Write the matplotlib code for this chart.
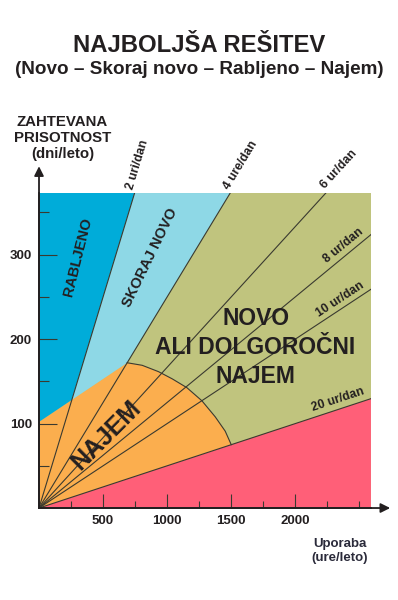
import numpy as np
import matplotlib
matplotlib.use('Agg')
import matplotlib.pyplot as plt
from matplotlib.patches import Polygon

plt.rcParams['font.family'] = ['Liberation Sans', 'DejaVu Sans']
plt.rcParams['font.weight'] = 'bold'

# axis extents (hours per year, days per year)
x_max = 2590
y_max = 373

# lines of constant daily use
hours_per_day = [2, 4, 6, 8, 10, 20]
hour_labels = ['2 uri/dan', '4 ure/dan', '6 ur/dan', '8 ur/dan', '10 ur/dan', '20 ur/dan']

# boundary of the "used" zones starts here on the y axis
used_start_days = 102

# boundary of the rental (najem) zone
najem_arc_x = [688, 805, 932, 1039, 1154, 1271, 1375, 1453, 1500]
najem_arc_y = [172, 169, 161.5, 153, 142.5, 127, 108, 91, 75]

x_ticks = [500, 1000, 1500, 2000]
x_minor = [250, 750, 1250, 1750, 2250, 2500]
y_ticks = [100, 200, 300]
y_minor = [50, 150, 250, 350]

c_green = '#c0c47e'
c_pink = '#ff5f78'
c_orange = '#fbae4e'
c_blue = '#00acd9'
c_lblue = '#8ed8e6'
c_ink = '#231f20'
c_line = '#3a3a30'

fig = plt.figure(figsize=(3.98, 6.0), dpi=100)
ax = fig.add_axes([0.098, 0.1533, 0.834, 0.525])
ax.set_xlim(0, x_max)
ax.set_ylim(0, y_max)
ax.set_facecolor(c_green)

# geometry of zone corners
corner_x, corner_y = najem_arc_x[0], najem_arc_y[0]
slope_b = (corner_y - used_start_days) / corner_x
x2 = used_start_days / (1 / 2 - slope_b)
y2 = x2 / 2

ax.add_patch(Polygon([(0, 0), (x_max, x_max / 20), (x_max, 0)], closed=True,
                     facecolor=c_pink, edgecolor='none'))
orange_pts = [(0, 0), (0, used_start_days)] + list(zip(najem_arc_x, najem_arc_y))
ax.add_patch(Polygon(orange_pts, closed=True, facecolor=c_orange, edgecolor='none'))
ax.add_patch(Polygon([(0, used_start_days), (x2, y2), (2 * y_max, y_max), (0, y_max)],
                     closed=True, facecolor=c_blue, edgecolor='none'))
ax.add_patch(Polygon([(x2, y2), (corner_x, corner_y), (4 * y_max, y_max), (2 * y_max, y_max)],
                     closed=True, facecolor=c_lblue, edgecolor='none'))

ax.plot(najem_arc_x, najem_arc_y, color=c_line, lw=0.8)

for h, lab in zip(hours_per_day, hour_labels):
    xe = min(x_max, y_max * h)
    ax.plot([0, xe], [0, xe / h], color=c_line, lw=0.8)
    ang = np.degrees(np.arctan2(1, h))
    if y_max * h < x_max:
        ax.text(xe + 10, xe / h + 2, lab, rotation=ang, transform_rotates_text=True,
                rotation_mode='anchor', ha='left', va='bottom', fontsize=8.8,
                color=c_ink, clip_on=False)
    else:
        xt = x_max - 40
        ax.text(xt, xt / h + 4, lab, rotation=ang, transform_rotates_text=True,
                rotation_mode='anchor', ha='right', va='bottom', fontsize=8.8,
                color=c_ink)

# zone names
ax.text(305, 297, 'RABLJENO', rotation=76, ha='center', va='center',
        fontsize=10.5, color=c_ink)
ax.text(867, 296, 'SKORAJ NOVO', rotation=64, ha='center', va='center',
        fontsize=10.5, color=c_ink)
ax.text(1690, 190, 'NOVO\nALI DOLGOROČNI\nNAJEM', ha='center', va='center',
        fontsize=16.5, color=c_ink, linespacing=1.35)
ax.text(525, 86, 'NAJEM', rotation=45, ha='center', va='center',
        fontsize=18, color=c_ink)

for s in ['top', 'right']:
    ax.spines[s].set_visible(False)
for s in ['left', 'bottom']:
    ax.spines[s].set_color(c_ink)
    ax.spines[s].set_linewidth(1.3)

ax.set_xticks(x_ticks)
ax.set_xticks(x_minor, minor=True)
ax.set_yticks(y_ticks)
ax.set_yticks(y_minor, minor=True)
ax.set_xticklabels([str(v) for v in x_ticks], fontsize=9.5, fontweight='bold', color=c_ink)
ax.set_yticklabels([str(v) for v in y_ticks], fontsize=9.5, fontweight='bold', color=c_ink)
ax.tick_params(axis='x', which='major', direction='in', length=10, width=0.8, color=c_line, pad=5)
ax.tick_params(axis='x', which='minor', direction='in', length=5, width=0.8, color=c_line)
ax.tick_params(axis='y', which='major', direction='in', length=13, width=0.8, color=c_line, pad=5)
ax.tick_params(axis='y', which='minor', direction='in', length=7, width=0.8, color=c_line)

# axis arrows
ax.annotate('', xy=(1.058, 0), xytext=(0, 0), xycoords='axes fraction',
            arrowprops=dict(arrowstyle='-|>', color=c_ink, lw=1.3, mutation_scale=14,
                            shrinkA=0, shrinkB=0), annotation_clip=False)
ax.annotate('', xy=(0, 1.085), xytext=(0, 0), xycoords='axes fraction',
            arrowprops=dict(arrowstyle='-|>', color=c_ink, lw=1.3, mutation_scale=14,
                            shrinkA=0, shrinkB=0), annotation_clip=False)

fig.text(0.157, 1 - 138 / 600, 'ZAHTEVANA\nPRISOTNOST\n(dni/leto)', ha='center', va='center',
         fontsize=10.8, color=c_ink, linespacing=1.15)
fig.text(0.854, 1 - 551 / 600, 'Uporaba\n(ure/leto)', ha='center', va='center',
         fontsize=9.5, color='#2a2a3a', linespacing=1.15)

fig.text(0.5, 1 - 46 / 600, 'NAJBOLJŠA REŠITEV', ha='center', va='center',
         fontsize=17.2, color=c_ink)
fig.text(0.5, 1 - 69 / 600, '(Novo – Skoraj novo – Rabljeno – Najem)', ha='center', va='center',
         fontsize=13.6, color=c_ink)

fig.savefig('out.png', dpi=100)
